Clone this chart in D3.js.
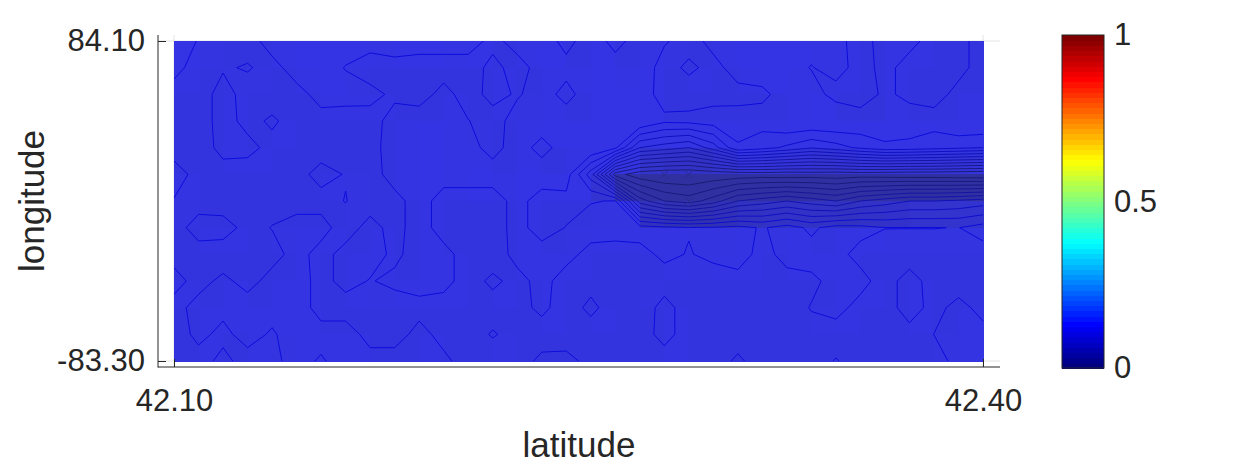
<!DOCTYPE html>
<html>
<head>
<meta charset="utf-8">
<script src="https://cdn.jsdelivr.net/npm/d3@7"></script>
<style>
  body { margin: 0; background: #fff; }
  svg text { font-family: "Liberation Sans", Arial, sans-serif; fill: #262626; }
</style>
</head>
<body>
<svg id="chart" width="1250" height="469"></svg>
<script>
// grid nodes (columns = latitude, rows = longitude from top to bottom)
const lat = [42.1000, 42.1091, 42.1182, 42.1273, 42.1364, 42.1455, 42.1545, 42.1636, 42.1727, 42.1818,
             42.1909, 42.2000, 42.2091, 42.2182, 42.2273, 42.2364, 42.2455, 42.2545, 42.2636, 42.2727,
             42.2818, 42.2909, 42.3000, 42.3091, 42.3182, 42.3273, 42.3364, 42.3455, 42.3545, 42.3636,
             42.3727, 42.3818, 42.3909, 42.4000];
const lon = [84.10, 70.15, 56.20, 42.25, 28.30, 14.35, 0.40, -13.55, -27.50, -41.45, -55.40, -69.35, -83.30];

const z = [
  [0.105, 0.0995, 0.095, 0.096, 0.104, 0.105, 0.106, 0.105, 0.104, 0.106, 0.105, 0.104, 0.105, 0.097, 0.104, 0.105, 0.097, 0.105, 0.097, 0.104, 0.101, 0.096, 0.103, 0.105, 0.106, 0.105, 0.104, 0.103, 0.096, 0.104, 0.103, 0.096, 0.097, 0.104],
  [0.103, 0.096, 0.099, 0.1008, 0.097, 0.104, 0.105, 0.0995, 0.095, 0.096, 0.095, 0.096, 0.095, 0.103, 0.096, 0.104, 0.103, 0.105, 0.104, 0.106, 0.096, 0.102, 0.097, 0.104, 0.105, 0.104, 0.0995, 0.104, 0.096, 0.103, 0.096, 0.095, 0.097, 0.104],
  [0.096, 0.095, 0.104, 0.096, 0.095, 0.097, 0.103, 0.104, 0.103, 0.098, 0.096, 0.103, 0.096, 0.103, 0.099, 0.104, 0.097, 0.105, 0.106, 0.105, 0.096, 0.095, 0.096, 0.097, 0.098, 0.104, 0.105, 0.096, 0.092, 0.103, 0.096, 0.096, 0.103, 0.105],
  [0.096, 0.095, 0.104, 0.097, 0.1015, 0.096, 0.097, 0.095, 0.096, 0.104, 0.105, 0.104, 0.1003, 0.096, 0.104, 0.105, 0.105, 0.106, 0.105, 0.110, 0.102, 0.103, 0.105, 0.104, 0.104, 0.110, 0.110, 0.110, 0.108, 0.110, 0.108, 0.104, 0.110, 0.110],
  [0.096, 0.095, 0.103, 0.103, 0.097, 0.095, 0.096, 0.095, 0.097, 0.104, 0.105, 0.104, 0.103, 0.097, 0.104, 0.097, 0.104, 0.110, 0.102, 0.070, 0.065, 0.060, 0.075, 0.099, 0.094, 0.088, 0.081, 0.086, 0.092, 0.097, 0.096, 0.094, 0.092, 0.090],
  [0.104, 0.097, 0.096, 0.095, 0.096, 0.097, 0.103, 0.0995, 0.096, 0.104, 0.105, 0.104, 0.105, 0.104, 0.105, 0.105, 0.105, 0.075, 0.015, 0.003, 0.000, 0.000, 0.002, 0.003, 0.004, 0.003, 0.004, 0.003, 0.004, 0.003, 0.002, 0.002, 0.001, 0.000],
  [0.0995, 0.096, 0.095, 0.096, 0.097, 0.096, 0.097, 0.1003, 0.096, 0.097, 0.104, 0.096, 0.095, 0.096, 0.103, 0.096, 0.097, 0.0995, 0.1005, 0.045, 0.030, 0.025, 0.035, 0.050, 0.055, 0.060, 0.055, 0.050, 0.060, 0.065, 0.070, 0.070, 0.072, 0.075],
  [0.096, 0.104, 0.104, 0.097, 0.1003, 0.104, 0.103, 0.096, 0.103, 0.097, 0.104, 0.096, 0.095, 0.096, 0.103, 0.096, 0.1003, 0.104, 0.104, 0.104, 0.102, 0.1005, 0.101, 0.103, 0.099, 0.104, 0.098, 0.104, 0.103, 0.1002, 0.1002, 0.1002, 0.0998, 0.104],
  [0.097, 0.096, 0.095, 0.096, 0.097, 0.103, 0.097, 0.103, 0.104, 0.098, 0.104, 0.103, 0.096, 0.095, 0.103, 0.104, 0.103, 0.097, 0.096, 0.097, 0.102, 0.0995, 0.102, 0.104, 0.097, 0.103, 0.104, 0.103, 0.097, 0.096, 0.095, 0.096, 0.097, 0.096],
  [0.103, 0.097, 0.102, 0.097, 0.103, 0.104, 0.097, 0.103, 0.0995, 0.102, 0.104, 0.103, 0.096, 0.102, 0.097, 0.103, 0.096, 0.097, 0.095, 0.0995, 0.096, 0.095, 0.096, 0.097, 0.096, 0.097, 0.098, 0.103, 0.103, 0.096, 0.104, 0.096, 0.095, 0.096],
  [0.097, 0.103, 0.102, 0.104, 0.103, 0.104, 0.097, 0.096, 0.095, 0.096, 0.097, 0.096, 0.095, 0.096, 0.097, 0.102, 0.096, 0.102, 0.096, 0.095, 0.103, 0.096, 0.095, 0.096, 0.097, 0.096, 0.1005, 0.103, 0.097, 0.096, 0.104, 0.097, 0.103, 0.097],
  [0.096, 0.102, 0.098, 0.103, 0.099, 0.104, 0.103, 0.104, 0.097, 0.096, 0.103, 0.097, 0.096, 0.1008, 0.097, 0.096, 0.095, 0.096, 0.095, 0.096, 0.103, 0.096, 0.095, 0.096, 0.095, 0.096, 0.097, 0.096, 0.095, 0.096, 0.097, 0.1001, 0.103, 0.103],
  [0.096, 0.097, 0.102, 0.097, 0.098, 0.103, 0.099, 0.104, 0.103, 0.104, 0.103, 0.102, 0.096, 0.095, 0.096, 0.102, 0.103, 0.097, 0.096, 0.095, 0.096, 0.095, 0.096, 0.1015, 0.096, 0.095, 0.096, 0.1005, 0.097, 0.096, 0.097, 0.096, 0.103, 0.104]
];

const levels = [0.01, 0.02, 0.03, 0.04, 0.05, 0.06, 0.07, 0.08, 0.09, 0.10];
const markLat = [42.2818, 42.2909, 42.2909];
const markLon = [14.35, 14.35, 0.40];
const xTicks = [42.10, 42.40];
const yTicks = [84.10, -83.30];
const cbTicks = [0, 0.5, 1];

const svg = d3.select('#chart');

const x = d3.scaleLinear().domain([lat[0], lat[lat.length - 1]]).range([174, 983]);
const y = d3.scaleLinear().domain([lon[lon.length - 1], lon[0]]).range([361, 41]);
const box = { left: 158, right: 1000, top: 35, bottom: 367 };

// grid index -> pixel
const gx = d3.scaleLinear().domain([0, lat.length - 1]).range([x(lat[0]), x(lat[lat.length - 1])]);
const gy = d3.scaleLinear().domain([0, lon.length - 1]).range([y(lon[0]), y(lon[lon.length - 1])]);

const fill = d3.scaleLinear().domain([0, 0.105]).range(['#3030a0', '#3434e4']).clamp(true);
const lineColor = d3.scaleLinear().domain([0.01, 0.1]).range(['#1c1c74', '#0c0cdc']);

function jet(t) {
    const c = v => Math.max(0, Math.min(1, v));
    return d3.rgb(255 * c(1.5 - Math.abs(4 * t - 3)), 255 * c(1.5 - Math.abs(4 * t - 2)), 255 * c(1.5 - Math.abs(4 * t - 1)));
}

// grid lines (only show in the margins around the image)
const grid = svg.append('g').attr('stroke', '#e3e3e3').attr('stroke-width', 1);
xTicks.forEach(d => grid.append('line').attr('x1', x(d)).attr('x2', x(d)).attr('y1', box.top).attr('y2', box.bottom));
yTicks.forEach(d => grid.append('line').attr('x1', box.left).attr('x2', box.right).attr('y1', y(d)).attr('y2', y(d)));

// pcolor cells, coloured by their upper-left node
const cells = [];
for (let j = 0; j < lon.length - 1; j++) {
    for (let k = 0; k < lat.length - 1; k++) {
        cells.push({ j, k, v: z[j][k] });
    }
}
svg.append('g')
    .attr('shape-rendering', 'crispEdges')
    .selectAll('rect')
    .data(cells)
    .enter()
    .append('rect')
    .attr('x', d => x(lat[d.k]))
    .attr('y', d => y(lon[d.j]))
    .attr('width', d => x(lat[d.k + 1]) - x(lat[d.k]) + 0.5)
    .attr('height', d => y(lon[d.j + 1]) - y(lon[d.j]) + 0.5)
    .attr('fill', d => fill(d.v));

// contour lines
svg.append('clipPath').attr('id', 'plotClip')
    .append('rect')
    .attr('x', x(lat[0])).attr('y', y(lon[0]))
    .attr('width', x(lat[lat.length - 1]) - x(lat[0]))
    .attr('height', y(lon[lon.length - 1]) - y(lon[0]));

const contours = d3.contours()
    .size([lat.length, lon.length])
    .thresholds(levels)(z.flat());

const ringPath = ring => 'M' + ring.map(p => gx(p[0] - 0.5).toFixed(2) + ',' + gy(p[1] - 0.5).toFixed(2)).join('L') + 'Z';

svg.append('g')
    .attr('clip-path', 'url(#plotClip)')
    .selectAll('path')
    .data(contours)
    .enter()
    .append('path')
    .attr('d', c => c.coordinates.map(poly => poly.map(ringPath).join('')).join(''))
    .attr('fill', 'none')
    .attr('stroke', c => lineColor(c.value))
    .attr('stroke-width', 1);

// markers
const marks = svg.append('g').attr('stroke', '#2b2b8e').attr('stroke-width', 1);
markLat.forEach((d, i) => {
    const px = x(d), py = y(markLon[i]);
    marks.append('line').attr('x1', px - 4).attr('y1', py - 4).attr('x2', px + 4).attr('y2', py + 4);
    marks.append('line').attr('x1', px - 4).attr('y1', py + 4).attr('x2', px + 4).attr('y2', py - 4);
});

// axes
const fmt = d => d.toFixed(2);
const yAxis = svg.append('g')
    .attr('transform', `translate(${box.left},0)`)
    .call(d3.axisLeft(y).tickValues(yTicks).tickFormat(fmt).tickSizeInner(-8).tickSizeOuter(0).tickPadding(13));
const xAxis = svg.append('g')
    .attr('transform', `translate(0,${box.bottom})`)
    .call(d3.axisBottom(x).tickValues(xTicks).tickFormat(fmt).tickSizeInner(-8).tickSizeOuter(0).tickPadding(22));

[yAxis, xAxis].forEach(a => {
    a.select('.domain').remove();
    a.selectAll('.tick line').attr('stroke', '#262626');
    a.selectAll('.tick text').attr('font-size', 31).attr('fill', '#262626')
        .style('font-family', '"Liberation Sans", Arial, sans-serif');
});

svg.append('line').attr('x1', box.left).attr('x2', box.left).attr('y1', box.top).attr('y2', box.bottom + 0.5)
    .attr('stroke', '#262626');
svg.append('line').attr('x1', box.left).attr('x2', box.right).attr('y1', box.bottom).attr('y2', box.bottom)
    .attr('stroke', '#262626');

svg.append('text')
    .attr('x', (box.left + box.right) / 2).attr('y', 457)
    .attr('text-anchor', 'middle').attr('font-size', 35)
    .text('latitude');
svg.append('text')
    .attr('transform', 'translate(44,201) rotate(-90)')
    .attr('text-anchor', 'middle').attr('font-size', 35)
    .text('longitude');

// colorbar
const cb = { left: 1062, right: 1104, top: 35, bottom: 368 };
const cbScale = d3.scaleLinear().domain([0, 1]).range([cb.bottom, cb.top]);
const steps = d3.range(64);
svg.append('g')
    .attr('shape-rendering', 'crispEdges')
    .selectAll('rect')
    .data(steps)
    .enter()
    .append('rect')
    .attr('x', cb.left)
    .attr('width', cb.right - cb.left)
    .attr('y', i => cbScale((i + 1) / 64))
    .attr('height', i => cbScale(i / 64) - cbScale((i + 1) / 64) + 0.6)
    .attr('fill', i => jet(i / 63));
svg.append('rect')
    .attr('x', cb.left).attr('y', cb.top)
    .attr('width', cb.right - cb.left).attr('height', cb.bottom - cb.top)
    .attr('fill', 'none').attr('stroke', '#262626').attr('stroke-width', 1);

const cbAxis = svg.append('g')
    .attr('transform', `translate(${cb.right},0)`)
    .call(d3.axisRight(cbScale).tickValues(cbTicks).tickFormat(d => String(d)).tickSize(0).tickPadding(10));
cbAxis.select('.domain').remove();
cbAxis.selectAll('.tick text').attr('font-size', 31).attr('fill', '#262626')
    .style('font-family', '"Liberation Sans", Arial, sans-serif');
</script>
</body>
</html>
